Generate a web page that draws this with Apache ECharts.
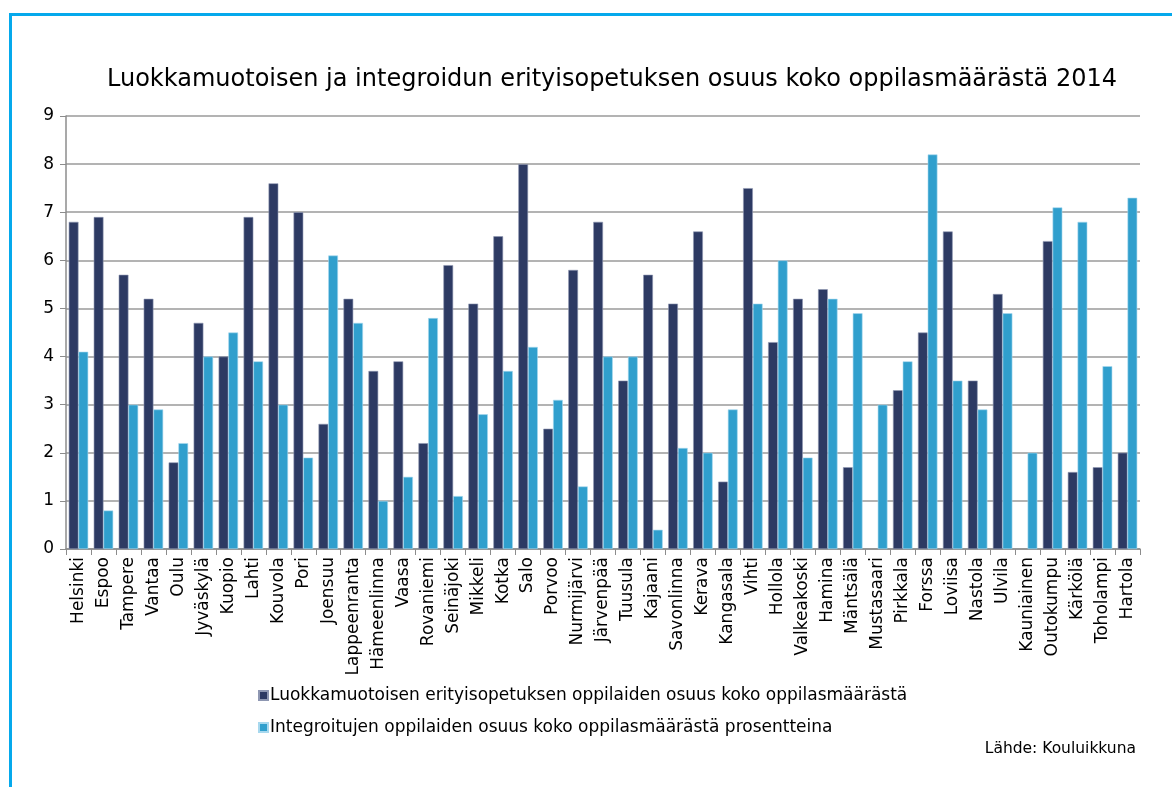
<!DOCTYPE html>
<html>
<head>
<meta charset="utf-8">
<script src="https://cdn.jsdelivr.net/npm/echarts@6/dist/echarts.min.js"></script>
<style>
html,body{margin:0;padding:0;background:#fff;}
#chart{width:1172px;height:787px;}
</style>
</head>
<body>
<div id="chart"></div>
<script>
const titleText = 'Luokkamuotoisen ja integroidun erityisopetuksen osuus koko oppilasmäärästä 2014';
const sourceText = 'Lähde: Kouluikkuna';
const categories = ['Helsinki','Espoo','Tampere','Vantaa','Oulu','Jyväskylä','Kuopio','Lahti','Kouvola','Pori','Joensuu','Lappeenranta','Hämeenlinna','Vaasa','Rovaniemi','Seinäjoki','Mikkeli','Kotka','Salo','Porvoo','Nurmijärvi','Järvenpää','Tuusula','Kajaani','Savonlinna','Kerava','Kangasala','Vihti','Hollola','Valkeakoski','Hamina','Mäntsälä','Mustasaari','Pirkkala','Forssa','Loviisa','Nastola','Ulvila','Kauniainen','Outokumpu','Kärkölä','Toholampi','Hartola'];
const seriesNames = ['Luokkamuotoisen erityisopetuksen oppilaiden osuus koko oppilasmäärästä','Integroitujen oppilaiden osuus koko oppilasmäärästä prosentteina'];
const classBased = [6.8,6.9,5.7,5.2,1.8,4.7,4.0,6.9,7.6,7.0,2.6,5.2,3.7,3.9,2.2,5.9,5.1,6.5,8.0,2.5,5.8,6.8,3.5,5.7,5.1,6.6,1.4,7.5,4.3,5.2,5.4,1.7,null,3.3,4.5,6.6,3.5,5.3,null,6.4,1.6,1.7,2.0];
const integrated = [4.1,0.8,3.0,2.9,2.2,4.0,4.5,3.9,3.0,1.9,6.1,4.7,1.0,1.5,4.8,1.1,2.8,3.7,4.2,3.1,1.3,4.0,4.0,0.4,2.1,2.0,2.9,5.1,6.0,1.9,5.2,4.9,3.0,3.9,8.2,3.5,2.9,4.9,2.0,7.1,6.8,3.8,7.3];
const yTicks = [0,1,2,3,4,5,6,7,8,9];

const chart = echarts.init(document.getElementById('chart'), null, {renderer:'canvas'});
const font = 'DejaVu Sans, Verdana, sans-serif';
chart.setOption({
  backgroundColor:'#ffffff',
  animation:false,
  title:{
    text:titleText, left:607, top:63, textAlign:'center',
    textStyle:{fontFamily:font, fontSize:24, fontWeight:'normal', color:'#000'}
  },
  graphic:[
    {type:'polyline', shape:{points:[[10.5,787],[10.5,14.5],[1172,14.5]]}, style:{stroke:'#05a9ec', lineWidth:3, fill:null}},
    {type:'text', right:36, top:741, style:{text:sourceText, fontFamily:font, fontSize:15.5, fill:'#000'}}
  ],
  legend:{
    orient:'vertical', left:253, top:682, itemGap:15, itemWidth:9, itemHeight:9,
    icon:'rect',
    textStyle:{fontFamily:font, fontSize:17, color:'#000', padding:[0,0,0,-3]},
    data:seriesNames
  },
  grid:{left:66, right:32, top:116, bottom:238, containLabel:false},
  xAxis:{
    type:'category', data:categories, boundaryGap:true,
    axisLine:{lineStyle:{color:'#8c8c8c', width:1.5}},
    axisTick:{show:true, alignWithLabel:false, length:6, lineStyle:{color:'#8c8c8c'}},
    axisLabel:{interval:0, rotate:90, fontFamily:font, fontSize:17, color:'#000', margin:8}
  },
  yAxis:{
    type:'value', min:yTicks[0], max:yTicks[yTicks.length-1], interval:1,
    axisLine:{show:true, lineStyle:{color:'#8c8c8c', width:1.5}},
    axisTick:{show:true, length:6, inside:false, lineStyle:{color:'#8c8c8c'}},
    axisLabel:{fontFamily:font, fontSize:17, color:'#000', margin:12},
    splitLine:{lineStyle:{color:'#9a9a9a', width:1.5}}
  },
  series:[
    {name:seriesNames[0], type:'bar', data:classBased, barGap:'0%', barCategoryGap:'22%',
     itemStyle:{color:'#2d3a63', borderColor:'#8e97b2', borderWidth:0.6}},
    {name:seriesNames[1], type:'bar', data:integrated,
     itemStyle:{color:'#309fcd', borderColor:'#a7d8ee', borderWidth:0.6}}
  ]
});
</script>
</body>
</html>
